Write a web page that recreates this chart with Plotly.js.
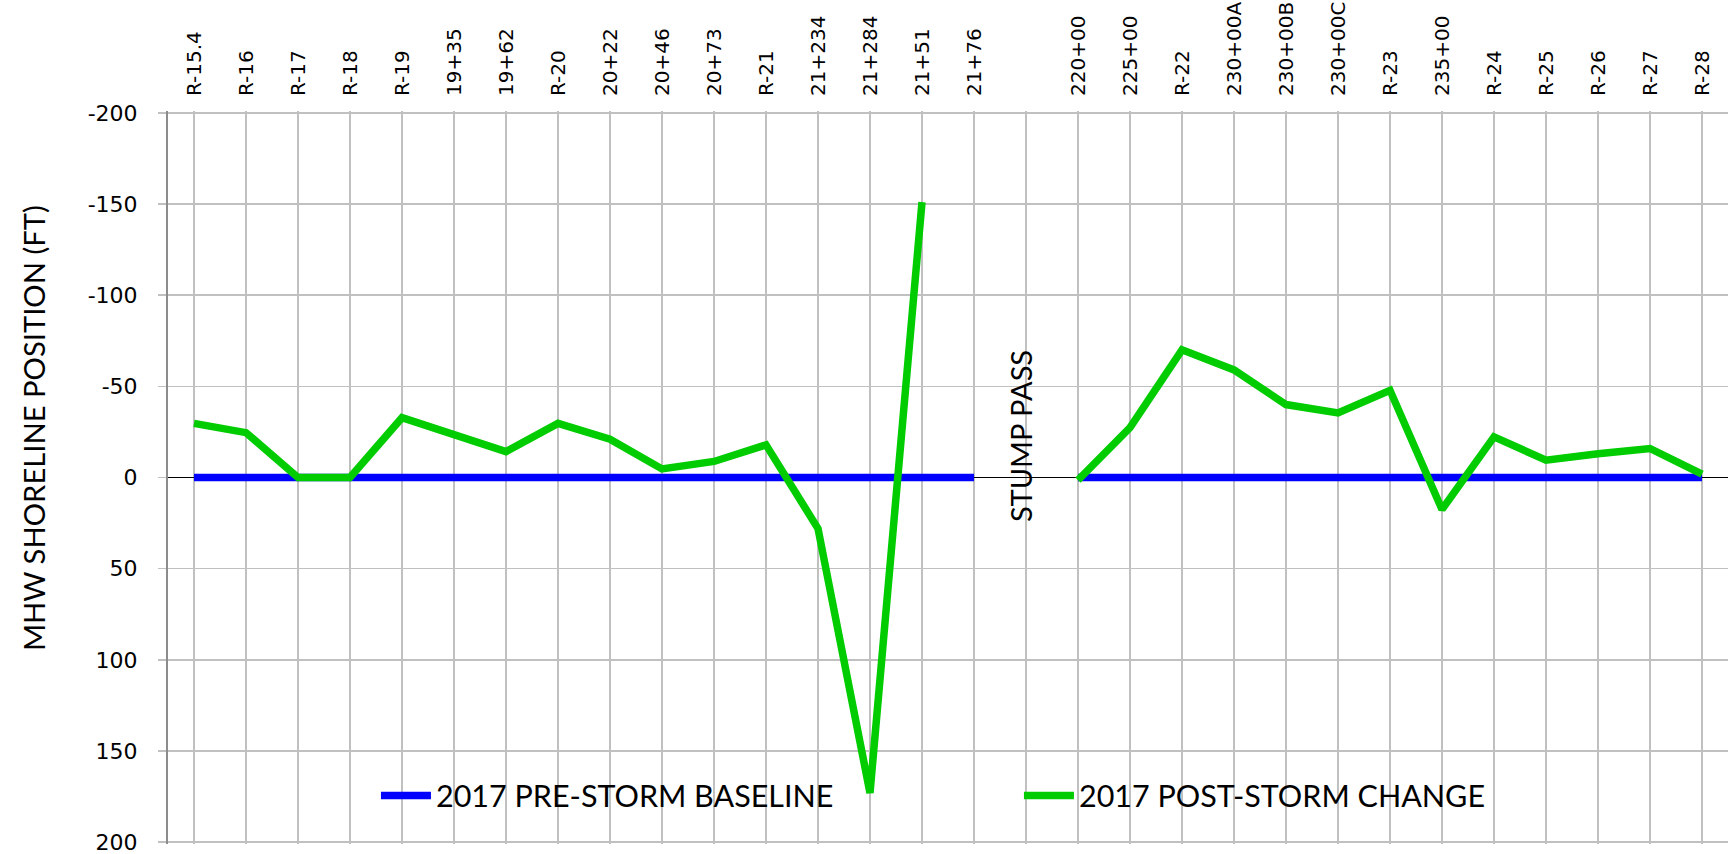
<!DOCTYPE html>
<html>
<head>
<meta charset="utf-8">
<script src="https://cdn.plot.ly/plotly-3.0.1.min.js"></script>
<style>html,body{margin:0;padding:0;background:#fff;}#chart{width:1730px;height:854px;}</style>
</head>
<body>
<div id="chart"></div>
<script>
const categories = ['R-15.4','R-16','R-17','R-18','R-19','19+35','19+62','R-20','20+22','20+46','20+73','R-21','21+234','21+284','21+51','21+76',' ','220+00','225+00','R-22','230+00A','230+00B','230+00C','R-23','235+00','R-24','R-25','R-26','R-27','R-28'];
const baseline2017 = [0,0,0,0,0,0,0,0,0,0,0,0,0,0,0,0,null,0,0,0,0,0,0,0,0,0,0,0,0,0];
const postStormChange2017 = [-29.7,-24.6,0,0,-32.8,-23.5,-14.2,-29.7,-21,-4.7,-8.8,-17.9,28,173,-151,null,null,1.5,-27.4,-70,-59,-40,-35.4,-47.8,17.5,-22.3,-9.5,-13,-15.9,-1.8];
const yTickVals = [-200,-150,-100,-50,0,50,100,150,200];
const yTickText = ['-200','-150','-100','-50','0','50','100','150','200'];
const seriesNames = ['2017 PRE-STORM BASELINE','2017 POST-STORM CHANGE'];
const yTitle = 'MHW SHORELINE POSITION (FT)';
const gapLabel = 'STUMP PASS';

const titleFont = 'Lato, "Open Sans", sans-serif';
const tickFont = '"DejaVu Sans", Verdana, sans-serif';

const traces = [
  {x: categories, y: baseline2017, name: seriesNames[0], type: 'scatter', mode: 'lines',
   line: {color: '#0000FF', width: 7.5}, connectgaps: false},
  {x: categories, y: postStormChange2017, name: seriesNames[1], type: 'scatter', mode: 'lines',
   line: {color: '#00CC00', width: 7.5}, connectgaps: false}
];

const layout = {
  width: 1730, height: 854,
  margin: {l: 168, r: 2, t: 110.5, b: 9.5},
  paper_bgcolor: '#ffffff', plot_bgcolor: '#ffffff',
  font: {family: tickFont, color: '#000'},
  showlegend: true,
  legend: {
    orientation: 'h', x: 0.1333, xanchor: 'left', y: 0.066, yanchor: 'middle',
    bgcolor: 'rgba(0,0,0,0)', borderwidth: 0,
    font: {family: titleFont, size: 30.5, color: '#000'},
    itemwidth: 50, entrywidth: 578, entrywidthmode: 'pixels',
    traceorder: 'normal'
  },
  xaxis: {
    type: 'category', categoryorder: 'array', categoryarray: categories,
    range: [-0.5, categories.length - 0.5],
    side: 'top', tickangle: -90,
    tickfont: {size: 20, family: tickFont, color: '#000'},
    showgrid: true, gridcolor: '#c0c0c0', gridwidth: 1.5,
    showline: false, zeroline: false,
    ticks: 'outside', ticklen: 10, tickcolor: 'rgba(0,0,0,0)',
    fixedrange: true
  },
  yaxis: {
    range: [201, -201],
    tickvals: yTickVals, ticktext: yTickText,
    tickfont: {size: 22, family: tickFont, color: '#000'},
    ticklabeloverflow: 'allow',
    showgrid: true, gridcolor: '#c0c0c0', gridwidth: 1.5,
    showline: true, linecolor: '#8c8c8c', linewidth: 2,
    ticks: 'outside', ticklen: 8, tickcolor: '#c0c0c0', tickwidth: 1.5,
    ticklabelstandoff: 16,
    zeroline: true, zerolinecolor: '#000000', zerolinewidth: 1.5,
    automargin: false, fixedrange: true
  },
  annotations: [
    {x: ' ', y: -22.7, xref: 'x', yref: 'y', text: gapLabel, showarrow: false,
     textangle: -90, xshift: -6,
     font: {family: titleFont, size: 29, color: '#000'}},
    {x: (33 - 168) / 1560, y: (844.5 - 428) / 734, xref: 'paper', yref: 'paper',
     xanchor: 'center', yanchor: 'middle', text: yTitle, showarrow: false,
     textangle: -90, font: {family: titleFont, size: 29.2, color: '#000'}}
  ]
};

Plotly.newPlot('chart', traces, layout, {displayModeBar: false, staticPlot: true});
</script>
</body>
</html>
